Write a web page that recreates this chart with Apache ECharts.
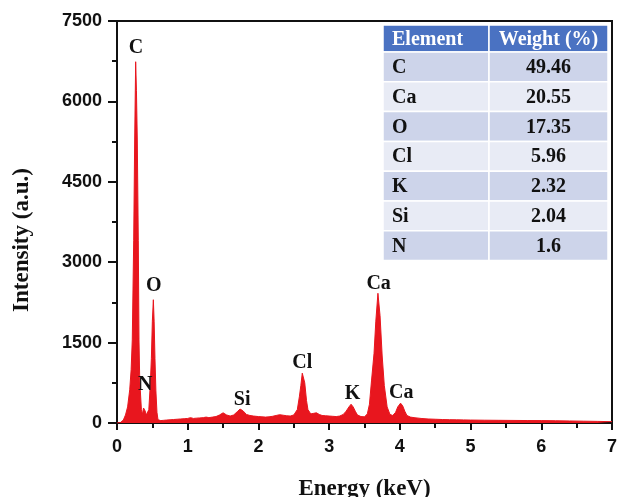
<!DOCTYPE html>
<html>
<head>
<meta charset="utf-8">
<script src="https://cdn.jsdelivr.net/npm/echarts@6/dist/echarts.min.js"></script>
<style>
  html, body { margin: 0; padding: 0; background: #fff; }
  #chart { width: 618px; height: 497px; }
</style>
</head>
<body>
<div id="chart"></div>
<script>
// EDS spectrum (keV, counts)
var energy = [0.00, 0.05, 0.09, 0.12, 0.15, 0.18, 0.20, 0.216, 0.236, 0.25, 0.264, 0.275, 0.287, 0.301, 0.311, 0.32, 0.33, 0.345, 0.36, 0.375, 0.386, 0.40, 0.415, 0.43, 0.45, 0.47, 0.486, 0.50, 0.514, 0.525, 0.537, 0.55, 0.565, 0.58,
  0.62, 0.66, 0.70, 0.75, 0.80, 0.85, 0.90, 0.95, 1.00, 1.04, 1.08, 1.12, 1.17, 1.22, 1.26, 1.30, 1.35, 1.40, 1.45, 1.50, 1.55, 1.60, 1.65, 1.70, 1.74, 1.78, 1.83, 1.88, 1.93,
  2.00, 2.05, 2.10, 2.15, 2.20, 2.25, 2.30, 2.35, 2.40, 2.45, 2.50, 2.55, 2.58, 2.60, 2.62, 2.635, 2.655, 2.68, 2.70, 2.74, 2.78, 2.82, 2.86, 2.90, 2.95,
  3.00, 3.05, 3.10, 3.15, 3.20, 3.24, 3.28, 3.31, 3.34, 3.37, 3.40, 3.45, 3.50, 3.54, 3.57, 3.60, 3.635, 3.66, 3.69, 3.72, 3.75, 3.78, 3.82, 3.86, 3.90, 3.94, 3.97,
  4.01, 4.04, 4.07, 4.10, 4.15, 4.20, 4.30, 4.40, 4.50, 4.60, 4.70, 4.80, 4.90, 5.00, 5.20, 5.40, 5.60, 5.80, 6.00, 6.20, 6.40, 6.60, 6.80, 7.00];
var counts = [0, 10, 56, 150, 300, 620, 1000, 1550, 3400, 5280, 6740, 6200, 5280, 3400, 1550, 900, 600, 250, 160, 280, 300, 220, 150, 120, 250, 700, 1200, 1900, 2300, 1900, 1200, 600, 200, 60,
  45, 50, 55, 60, 65, 70, 75, 80, 85, 100, 85, 90, 95, 100, 110, 100, 110, 120, 150, 190, 150, 130, 150, 210, 260, 230, 160, 140, 130,
  120, 115, 110, 115, 125, 140, 155, 145, 135, 130, 150, 250, 500, 700, 930, 960, 750, 420, 250, 170, 180, 190, 160, 140, 135,
  130, 125, 120, 130, 160, 220, 300, 350, 300, 220, 150, 120, 115, 170, 350, 800, 1300, 1900, 2420, 2000, 1250, 700, 300, 160, 140, 200, 300,
  370, 320, 220, 140, 110, 100, 85, 75, 70, 65, 62, 60, 58, 55, 52, 50, 48, 46, 45, 42, 38, 34, 30, 25];

// peak labels (keV, label centre in counts)
var peakNames = ['C', 'N', 'O', 'Si', 'Cl', 'K', 'Ca', 'Ca'];
var peakX = [0.27, 0.40, 0.52, 1.77, 2.62, 3.33, 3.70, 4.02];
var peakY = [7000, 709, 2556, 430, 1120, 541, 2593, 560];

// inset table
var elements = ['C', 'Ca', 'O', 'Cl', 'K', 'Si', 'N'];
var weights = ['49.46', '20.55', '17.35', '5.96', '2.32', '2.04', '1.6'];

var red = '#E8161E';
var serif = '"Liberation Serif", "DejaVu Serif", serif';
var sans = '"Liberation Sans", Arial, sans-serif';

var specData = energy.map(function (e, i) { return [e, counts[i]]; });
var labelData = peakNames.map(function (n, i) { return { value: [peakX[i], peakY[i]], name: n }; });

// table graphics
var tLeft = 383, tMid = 489, tRight = 608, tTop = 25, headH = 27, rowH = 29.8;
var tableEls = [];
tableEls.push({ type: 'rect', shape: { x: tLeft, y: tTop, width: tMid - tLeft, height: headH },
  style: { fill: '#4A72C2', stroke: '#fff', lineWidth: 1.5 } });
tableEls.push({ type: 'rect', shape: { x: tMid, y: tTop, width: tRight - tMid, height: headH },
  style: { fill: '#4A72C2', stroke: '#fff', lineWidth: 1.5 } });
tableEls.push({ type: 'text', x: tLeft + 9, y: tTop + headH / 2 + 1,
  style: { text: 'Element', fill: '#fff', font: 'bold 20px ' + serif, textAlign: 'left', textVerticalAlign: 'middle' } });
tableEls.push({ type: 'text', x: (tMid + tRight) / 2, y: tTop + headH / 2 + 1,
  style: { text: 'Weight (%)', fill: '#fff', font: 'bold 20px ' + serif, textAlign: 'center', textVerticalAlign: 'middle' } });
elements.forEach(function (el, i) {
  var y0 = tTop + headH + i * rowH;
  var fill = i % 2 === 0 ? '#CDD4EA' : '#E8EBF5';
  tableEls.push({ type: 'rect', shape: { x: tLeft, y: y0, width: tMid - tLeft, height: rowH },
    style: { fill: fill, stroke: '#fff', lineWidth: 1.5 } });
  tableEls.push({ type: 'rect', shape: { x: tMid, y: y0, width: tRight - tMid, height: rowH },
    style: { fill: fill, stroke: '#fff', lineWidth: 1.5 } });
  tableEls.push({ type: 'text', x: tLeft + 9, y: y0 + rowH / 2 + 1,
    style: { text: el, fill: '#111', font: 'bold 20px ' + serif, textAlign: 'left', textVerticalAlign: 'middle' } });
  tableEls.push({ type: 'text', x: (tMid + tRight) / 2, y: y0 + rowH / 2 + 1,
    style: { text: weights[i], fill: '#111', font: 'bold 20px ' + serif, textAlign: 'center', textVerticalAlign: 'middle' } });
});
// y axis title, sits a bit below the axis middle in the original
tableEls.push({ type: 'text', x: 22, y: 240, rotation: Math.PI / 2,
  style: { text: 'Intensity (a.u.)', fill: '#111', font: 'bold 23px ' + serif, textAlign: 'center', textVerticalAlign: 'middle' } });

var chart = echarts.init(document.getElementById('chart'), null, { renderer: 'canvas' });

var option = {
  animation: false,
  backgroundColor: '#fff',
  grid: {
    left: 117, right: 6, top: 21, bottom: 74,
    outerBoundsMode: 'none',
    show: true, borderColor: '#111', borderWidth: 2, backgroundColor: 'transparent'
  },
  xAxis: {
    type: 'value', min: 0, max: 7, interval: 1,
    name: 'Energy (keV)', nameLocation: 'middle', nameGap: 55,
    nameTextStyle: { fontFamily: serif, fontWeight: 'bold', fontSize: 23, color: '#111' },
    axisLine: { show: true, lineStyle: { color: '#111', width: 2 } },
    axisTick: { show: true, inside: false, length: 7, lineStyle: { color: '#111', width: 2 } },
    minorTick: { show: true, splitNumber: 2, length: 5, lineStyle: { color: '#111', width: 2 } },
    axisLabel: { margin: 15, fontFamily: sans, fontWeight: 'bold', fontSize: 18, color: '#111' },
    splitLine: { show: false }
  },
  yAxis: {
    type: 'value', min: 0, max: 7500, interval: 1500,
    axisLine: { show: true, onZero: false, lineStyle: { color: '#111', width: 2 } },
    axisTick: { show: true, inside: false, length: 9, lineStyle: { color: '#111', width: 2 } },
    minorTick: { show: true, splitNumber: 2, length: 5, lineStyle: { color: '#111', width: 2 } },
    axisLabel: { margin: 15, fontFamily: sans, fontWeight: 'bold', fontSize: 18, color: '#111',
      formatter: function (v) { return String(v); } },
    splitLine: { show: false }
  },
  graphic: tableEls,
  series: [
    {
      type: 'line',
      data: specData,
      symbol: 'none',
      smooth: false,
      lineStyle: { color: red, width: 1 },
      areaStyle: { color: red, opacity: 1 },
      z: 2
    },
    {
      type: 'scatter',
      data: labelData,
      symbolSize: 1,
      itemStyle: { color: 'rgba(0,0,0,0)', opacity: 1 },
      label: {
        show: true, position: 'inside', formatter: '{b}',
        fontFamily: serif, fontWeight: 'bold', fontSize: 20, color: '#111'
      },
      z: 3
    }
  ]
};

chart.setOption(option);
</script>
</body>
</html>
